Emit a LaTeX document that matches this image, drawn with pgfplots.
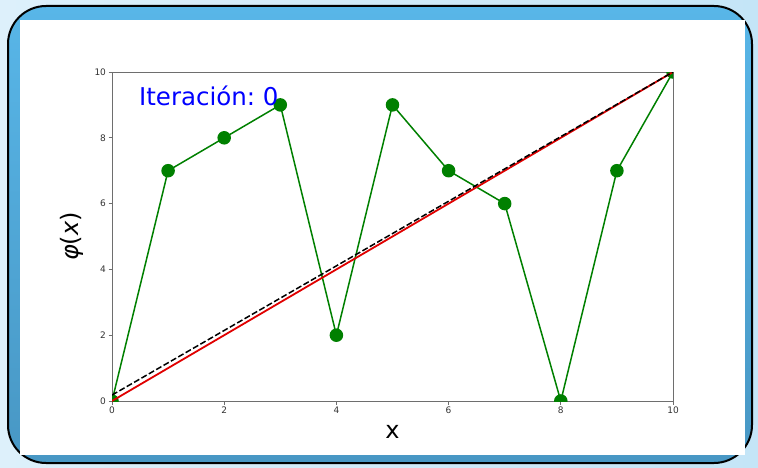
\documentclass[border=0pt]{standalone}
\usepackage{fontspec}
\setmainfont{DejaVu Sans}
\usepackage{pgfplots}
\pgfplotsset{compat=1.18}
\frenchspacing

\definecolor{bgl}{HTML}{DDF0FB}
\definecolor{bgr}{HTML}{C4E5F7}
\definecolor{paneltop}{HTML}{58B6E8}
\definecolor{panelbot}{HTML}{4897C4}
\definecolor{mplgreen}{HTML}{008000}
\definecolor{mplred}{HTML}{E00000}
\definecolor{axgray}{HTML}{6E6E6E}
\definecolor{ticktext}{HTML}{333333}

\begin{document}
\begin{tikzpicture}[x=1pt,y=1pt]
  % backdrop and panel
  \shade[left color=bgl,right color=bgr] (0,0) rectangle (758,467);
  \shade[top color=paneltop,bottom color=panelbot,rounded corners=38pt]
        (8,4) rectangle (752,461);
  \draw[black,line width=2pt,rounded corners=38pt] (8,4) rectangle (752,461);
  \fill[white] (20,12) rectangle (745,447);

  \begin{axis}[
    at={(112pt,66pt)}, anchor=south west,
    scale only axis, width=561pt, height=329pt,
    xmin=0, xmax=10, ymin=0, ymax=10,
    xtick={0,2,4,6,8,10}, ytick={0,2,4,6,8,10},
    tick align=outside, tick pos=left,
    major tick length=3.5pt,
    axis line style={axgray, line width=0.9pt},
    every tick/.style={axgray, line width=0.8pt},
    ticklabel style={font=\fontsize{9}{10}\selectfont, text=ticktext},
    /pgf/number format/assume math mode=true,
    xticklabel style={yshift=1pt},
    yticklabel style={xshift=1pt},
    clip marker paths=true,
    xlabel={\fontsize{24}{26}\selectfont x},
    xlabel style={yshift=-5pt},
    ylabel={\fontsize{24}{26}\selectfont \textit{φ}(\textit{x})},
    ylabel style={yshift=4pt},
  ]
    \addplot[mplgreen, line width=1.5pt, mark=*, mark size=6pt,
             mark options={fill=mplgreen, draw=mplgreen}]
      coordinates {(0,0) (1,7) (2,8) (3,9) (4,2) (5,9) (6,7) (7,6) (8,0) (9,7) (10,10)};
    \addplot[mplred, line width=1.8pt] coordinates {(0,0) (10,10)};
    \addplot[black, line width=1.5pt, dash pattern=on 6pt off 2.5pt]
      coordinates {(0,0.18) (10,10)};
    \node[anchor=base west, text=blue, font=\fontsize{24.5}{26}\selectfont,
          inner sep=0pt] at (axis cs:0.48,8.97) {Iteración: 0};
  \end{axis}
\end{tikzpicture}
\end{document}
